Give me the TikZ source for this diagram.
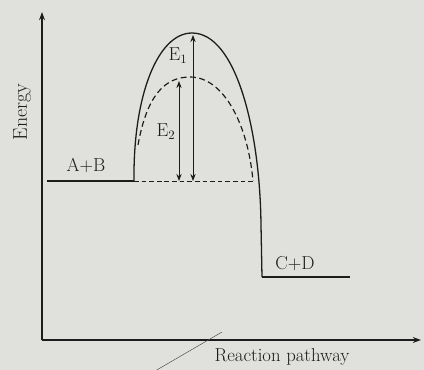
\documentclass[tikz,border=0pt]{standalone}
\usepackage{tikz}
\usetikzlibrary{calc, positioning, arrows.meta}
\definecolor{paper}{RGB}{224,224,221}
\definecolor{ink}{RGB}{28,28,28}

\begin{document}
\begin{tikzpicture}[>={Stealth[length=7pt, width=5pt]}, x=0.03cm, y=-0.03cm,
    line/.style={ink, line width=1.1pt},
    dashline/.style={ink, line width=1pt, dash pattern=on 5pt off 3pt},
    lbl/.style={ink, font=\fontsize{16}{19}\selectfont}]

    % =================================================================
    % 1. BACKGROUND AND MAIN POINTS
    % =================================================================
    \fill[paper] (0,0) rectangle (424,370);
    \useasboundingbox (0,0) rectangle (424,370);

    \coordinate (O) at (42,340);
    \coordinate (Ytop) at (42,12);
    \coordinate (Xend) at (421,340);
    \coordinate (A) at (47,181);
    \coordinate (B) at (134,181);
    \coordinate (T) at (192,33);
    \coordinate (S) at (190,77);
    \coordinate (R) at (253,181);
    \coordinate (C) at (262,277);
    \coordinate (D) at (350,277);

    % =================================================================
    % 2. AXES
    % =================================================================
    \draw[line, ->] (O) -- (Ytop);
    \draw[line, ->] (O) -- (Xend);

    % =================================================================
    % 3. ENERGY LEVELS AND CURVES
    % =================================================================
    \draw[line] (A) -- (B);
    \draw[line] (C) -- (D);
    \draw[ink, line width=0.8pt, dash pattern=on 4pt off 2.5pt] (B) -- (R);

    % solid curve
    \draw[line] (B) .. controls (133,95) and (158,33) .. (T)
        .. controls (236,33) and (260,130) .. (261,225) -- (C);

    % dashed curve
    \draw[dashline] (138,145) .. controls (147,95) and (165,77) .. (S)
        .. controls (224,77) and (248,125) .. (R);

    % =================================================================
    % 4. ENERGY ARROWS
    % =================================================================
    \coordinate (E1b) at (193,181);
    \coordinate (E1t) at (193,35);
    \coordinate (E2b) at (179,181);
    \coordinate (E2t) at (179,81);
    \draw[ink, line width=0.8pt, {Stealth[length=6pt, width=4.5pt]}-{Stealth[length=6pt, width=4.5pt]}] (E1b) -- (E1t);
    \draw[ink, line width=0.8pt, {Stealth[length=6pt, width=4.5pt]}-{Stealth[length=6pt, width=4.5pt]}] (E2b) -- (E2t);

    % =================================================================
    % 5. LABELS
    % =================================================================
    \node[lbl] (ab) at (86,165) {A+B};
    \node[lbl] (cd) at (295,264) {C+D};
    \node[lbl] (e1) at (178,56) {E$_1$};
    \node[lbl] (e2) at (166,132) {E$_2$};
    \node[lbl, rotate=90, font=\fontsize{17}{20}\selectfont] (en) at (22,112) {Energy};
    \node[lbl] (rp) at (282,357) {Reaction pathway};

    % stray mark
    \coordinate (M1) at (155,371);
    \coordinate (M2) at (222,332);
    \draw[ink!80, thin] (M1) -- (M2);

\end{tikzpicture}
\end{document}
